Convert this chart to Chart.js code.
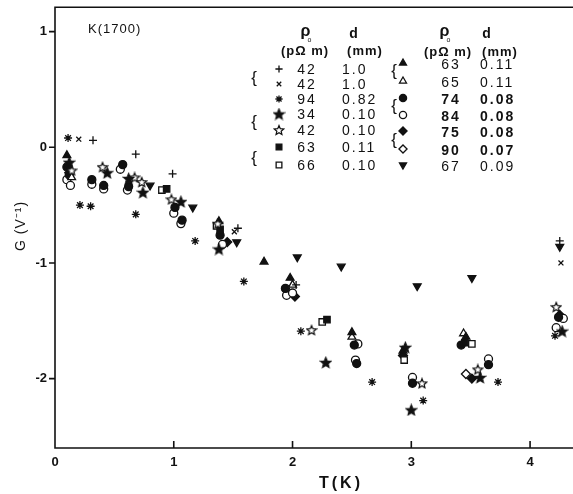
<!DOCTYPE html>
<html>
<head>
<meta charset="utf-8">
<script src="https://cdn.jsdelivr.net/npm/chart.js@4.4.0/dist/chart.umd.min.js"></script>
<style>
html, body { margin: 0; padding: 0; background: #fff; }
</style>
</head>
<body>
<canvas id="myChart" width="573" height="494"></canvas>
<script>
// T (K) and G (1/V), one pair of arrays per sample
const plusT  = [0.32, 0.68, 0.99, 1.54, 2.03, 4.25];
const plusG  = [0.06, -0.06, -0.23, -0.70, -1.19, -0.81];
const crossT = [0.20, 4.26, 1.51];
const crossG = [0.07, -1.00, -0.73];
const astT   = [0.11, 0.21, 0.30, 0.68, 1.18, 1.59, 2.07, 2.67, 3.10, 3.73, 4.21];
const astG   = [0.08, -0.50, -0.51, -0.58, -0.81, -1.16, -1.59, -2.03, -2.19, -2.03, -1.63];
const starFT = [0.12, 0.44, 0.62, 0.74, 1.06, 1.38, 2.28, 2.95, 3.00, 3.58, 4.27];
const starFG = [-0.13, -0.22, -0.27, -0.39, -0.47, -0.88, -1.86, -1.73, -2.27, -1.99, -1.59];
const starOT = [0.14, 0.40, 0.67, 0.73, 0.98, 1.37, 2.16, 3.09, 3.56, 4.22];
const starOG = [-0.20, -0.17, -0.26, -0.30, -0.45, -0.66, -1.58, -2.04, -1.92, -1.38];
const sqFT   = [0.94, 1.39, 2.29, 3.45];
const sqFG   = [-0.36, -0.71, -1.49, -1.69];
const sqOT   = [0.90, 1.36, 2.25, 2.94, 3.51];
const sqOG   = [-0.37, -0.68, -1.51, -1.84, -1.70];
const triFT  = [0.10, 1.38, 1.76, 1.98, 2.50, 2.93, 3.46];
const triFG  = [-0.07, -0.64, -0.99, -1.13, -1.60, -1.76, -1.64];
const triOT  = [0.14, 2.00, 2.50, 3.44];
const triOG  = [-0.26, -1.19, -1.64, -1.61];
const cirFT  = [0.10, 0.12, 0.31, 0.41, 0.57, 0.62, 1.01, 1.07, 1.39, 1.94, 2.52, 2.54, 3.01, 3.42, 3.65, 4.24];
const cirFG  = [-0.17, -0.24, -0.28, -0.33, -0.15, -0.34, -0.52, -0.63, -0.76, -1.22, -1.71, -1.87, -2.04, -1.71, -1.88, -1.47];
const cirOT  = [0.10, 0.13, 0.31, 0.41, 0.55, 0.61, 1.00, 1.06, 1.41, 1.95, 2.00, 2.55, 2.53, 3.01, 3.65, 4.22, 4.28];
const cirOG  = [-0.28, -0.33, -0.32, -0.36, -0.19, -0.37, -0.57, -0.66, -0.84, -1.28, -1.26, -1.70, -1.84, -1.99, -1.83, -1.56, -1.48];
const diaFT  = [0.12, 1.45, 2.02, 2.93, 3.51, 4.25];
const diaFG  = [-0.22, -0.82, -1.29, -1.80, -2.00, -1.45];
const diaOT  = [3.46];
const diaOG  = [-1.96];
const invT   = [0.80, 1.16, 1.53, 2.04, 2.41, 3.05, 3.51, 4.25];
const invG   = [-0.33, -0.52, -0.82, -0.95, -1.03, -1.20, -1.13, -0.86];

const xTicks = [0, 1, 2, 3, 4];
const yTicks = [-2, -1, 0, 1];

// legend table
const rho1 = ['42', '42', '94', '34', '42', '63', '66'];
const d1   = ['1.0', '1.0', '0.82', '0.10', '0.10', '0.11', '0.10'];
const rho2 = ['63', '65', '74', '84', '75', '90', '67'];
const d2   = ['0.11', '0.11', '0.08', '0.08', '0.08', '0.07', '0.09'];

const INK = '#111';
const FONT = '"Liberation Sans", Arial, sans-serif';

function makeStar(filled, size) {
    let c = document.createElement('canvas');
    c.width = size; c.height = size;
    let g = c.getContext('2d');
    let r = size / 2 - 1, ri = r * 0.45, cx = size / 2, cy = size / 2 + 0.5;
    g.beginPath();
    for (let i = 0; i < 10; i++) {
        let a = -Math.PI / 2 + i * Math.PI / 5;
        let rr = i % 2 ? ri : r;
        g.lineTo(cx + rr * Math.cos(a), cy + rr * Math.sin(a));
    }
    g.closePath();
    g.lineWidth = 1.2;
    g.strokeStyle = INK;
    g.fillStyle = filled ? INK : '#fff';
    g.fill();
    g.stroke();
    return c;
}

const starFilled = makeStar(true, 13);
const starOpen = makeStar(false, 12);

function pts(xs, ys) {
    return xs.map((v, i) => ({x: v, y: ys[i]}));
}

function series(label, xs, ys, style, radius, filled, rotation) {
    return {
        label: label,
        data: pts(xs, ys),
        pointStyle: style,
        pointRadius: radius,
        pointRotation: rotation || 0,
        pointBorderWidth: 1.3,
        pointBorderColor: INK,
        pointBackgroundColor: filled ? INK : '#fff',
        showLine: false,
        clip: false
    };
}

const sets = [
    series('+', plusT, plusG, 'cross', 4, true),
    series('x', crossT, crossG, 'crossRot', 3.5, true),
    series('*', astT, astG, 'star', 4, true),
    series('star f', starFT, starFG, starFilled, 6, true),
    series('star o', starOT, starOG, starOpen, 6, false),
    series('sq f', sqFT, sqFG, 'rect', 4.5, true),
    series('sq o', sqOT, sqOG, 'rect', 4.5, false),
    series('tri f', triFT, triFG, 'triangle', 4.5, true),
    series('tri o', triOT, triOG, 'triangle', 4.5, false),
    series('cir f', cirFT, cirFG, 'circle', 4, true),
    series('cir o', cirOT, cirOG, 'circle', 4, false),
    series('dia f', diaFT, diaFG, 'rectRot', 4.5, true),
    series('dia o', diaOT, diaOG, 'rectRot', 4.5, false),
    series('inv', invT, invG, 'triangle', 4.5, true, 180)
];

function symbol(ctx, ds, x, y) {
    ctx.save();
    ctx.fillStyle = ds.pointBackgroundColor;
    ctx.strokeStyle = INK;
    ctx.lineWidth = 1.3;
    Chart.helpers.drawPoint(ctx, {
        pointStyle: ds.pointStyle,
        radius: ds.pointRadius * 0.9,
        rotation: ds.pointRotation,
        borderWidth: 1.3
    }, x, y);
    ctx.restore();
}

const frame = {
    id: 'frame',
    afterDraw(chart) {
        const {ctx, chartArea: a, scales: {x, y}} = chart;
        ctx.save();
        ctx.strokeStyle = INK;
        ctx.lineWidth = 1.6;
        ctx.beginPath();
        ctx.moveTo(573, a.top); ctx.lineTo(a.left, a.top);
        ctx.lineTo(a.left, a.bottom); ctx.lineTo(573, a.bottom);
        xTicks.forEach(v => {
            let px = x.getPixelForValue(v);
            ctx.moveTo(px, a.bottom); ctx.lineTo(px, a.bottom - 7);
        });
        yTicks.forEach(v => {
            let py = y.getPixelForValue(v);
            ctx.moveTo(a.left, py); ctx.lineTo(a.left - 6, py);
        });
        ctx.stroke();

        ctx.fillStyle = INK;
        ctx.textBaseline = 'middle';
        ctx.letterSpacing = '1px';
        ctx.font = '13px ' + FONT;
        ctx.textAlign = 'left';
        ctx.fillText('K(1700)', 88, 29);

        // axis titles
        ctx.font = 'bold 16px ' + FONT;
        ctx.letterSpacing = '3px';
        ctx.textAlign = 'center';
        ctx.fillText('T(K)', 341, 484);
        ctx.save();
        ctx.translate(21, 226);
        ctx.rotate(-Math.PI / 2);
        ctx.font = '14px ' + FONT;
        ctx.letterSpacing = '1px';
        ctx.fillText('G (V\u207B\u00B9)', 0, 0);
        ctx.restore();

        // legend headers
        ctx.letterSpacing = '1px';
        ctx.font = 'bold 16px ' + FONT;
        ctx.fillText('\u03C1', 306, 32);
        ctx.fillText('\u03C1', 445, 32);
        ctx.font = 'bold 14px ' + FONT;
        ctx.fillText('d', 354, 34);
        ctx.fillText('d', 487, 34);
        ctx.font = 'bold 13px ' + FONT;
        ctx.fillText('(p\u03A9 m)', 305, 51);
        ctx.fillText('(mm)', 365, 51);
        ctx.fillText('(p\u03A9 m)', 448, 52);
        ctx.fillText('(mm)', 500, 52);
        ctx.font = '7px ' + FONT;
        ctx.fillText('o', 310, 40);
        ctx.fillText('o', 449, 40);

        // legend rows
        const ys1 = [70, 85, 100, 115, 131, 148, 166];
        const ys2 = [65, 83, 100, 117, 133, 151, 167];
        ctx.letterSpacing = '2px';
        for (let i = 0; i < 7; i++) {
            ctx.font = '14px ' + FONT;
            ctx.textAlign = 'center';
            ctx.fillText(rho1[i], 307, ys1[i]);
            ctx.textAlign = 'left';
            ctx.fillText(d1[i], 342, ys1[i]);
            ctx.font = (i >= 2 && i <= 5 ? 'bold ' : '') + '14px ' + FONT;
            ctx.textAlign = 'center';
            ctx.fillText(rho2[i], 451, ys2[i]);
            ctx.textAlign = 'left';
            ctx.fillText(d2[i], 480, ys2[i]);
            symbol(ctx, sets[i], 279, ys1[i] - 1);
            symbol(ctx, sets[i + 7], 403, ys2[i] - 2);
        }
        ctx.letterSpacing = '0px';
        ctx.font = '17px ' + FONT;
        ctx.textAlign = 'center';
        [78, 122, 158].forEach(v => ctx.fillText('{', 254, v));
        [71, 106, 140].forEach(v => ctx.fillText('{', 394, v));
        ctx.restore();
    }
};

const tickFont = {family: FONT, size: 13, weight: 'bold'};

new Chart(document.getElementById('myChart').getContext('2d'), {
    type: 'scatter',
    data: {datasets: sets},
    options: {
        responsive: false,
        animation: false,
        layout: {padding: {top: 1, right: 0, left: 0, bottom: 0}},
        plugins: {legend: {display: false}, tooltip: {enabled: false}},
        scales: {
            x: {
                type: 'linear', min: 0, max: 4.30,
                afterBuildTicks: s => { s.ticks = xTicks.map(v => ({value: v})); },
                afterFit: s => { s.height = 46; s.paddingLeft = 0; s.paddingRight = 0; },
                grid: {display: false, drawTicks: false},
                border: {display: false},
                ticks: {color: INK, font: tickFont, padding: 7, maxRotation: 0}
            },
            y: {
                type: 'linear', min: -2.6, max: 1.21,
                afterBuildTicks: s => { s.ticks = yTicks.map(v => ({value: v})); },
                afterFit: s => { s.width = 55; s.paddingTop = 0; s.paddingBottom = 0; },
                grid: {display: false, drawTicks: false},
                border: {display: false},
                ticks: {
                    color: INK, font: tickFont, padding: 8,
                    callback: v => v < 0 ? '-' + Math.abs(v) : String(v)
                }
            }
        }
    },
    plugins: [frame]
});
</script>
</body>
</html>
